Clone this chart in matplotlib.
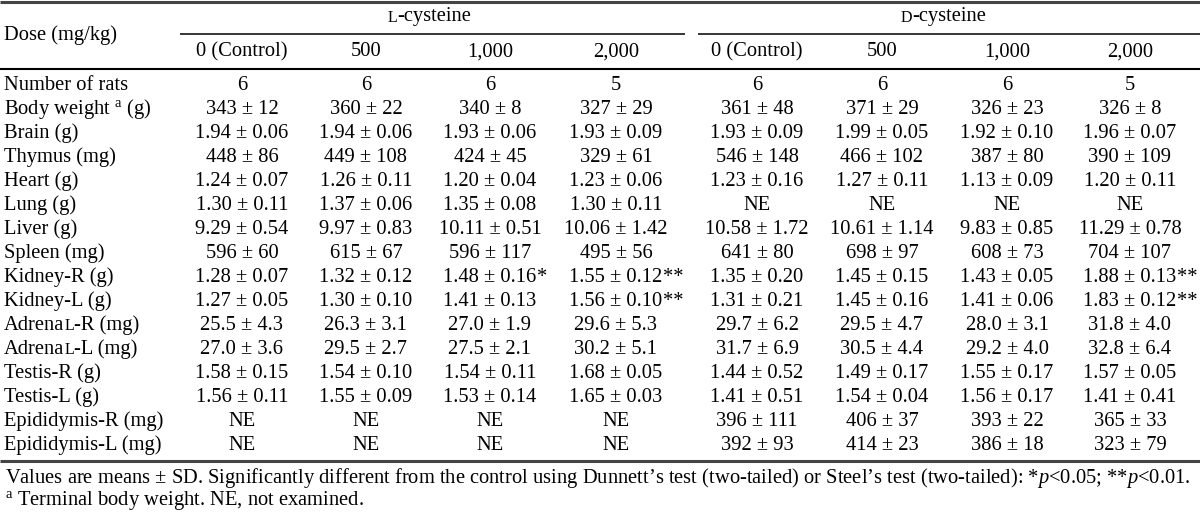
import matplotlib.pyplot as plt
from matplotlib.offsetbox import TextArea, HPacker, AnnotationBbox

plt.rcParams['font.family'] = ['Liberation Serif', 'DejaVu Serif']
plt.rcParams['mathtext.fontset'] = 'custom'
plt.rcParams['mathtext.rm'] = 'Liberation Serif'
plt.rcParams['mathtext.it'] = 'Liberation Serif:italic'

# table content
doses = ["0 (Control)", "500", "1,000", "2,000"]
row_labels = ["Number of rats", "Body weight $^{\\rm a}$ (g)", "Brain (g)", "Thymus (mg)",
              "Heart (g)", "Lung (g)", "Liver (g)", "Spleen (mg)", "Kidney-R (g)",
              "Kidney-L (g)", "AdrenaL-R (mg)", "AdrenaL-L (mg)", "Testis-R (g)",
              "Testis-L (g)", "Epididymis-R (mg)", "Epididymis-L (mg)"]

l_0 = ["6", "343 ± 12", "1.94 ± 0.06", "448 ± 86", "1.24 ± 0.07", "1.30 ± 0.11", "9.29 ± 0.54",
       "596 ± 60", "1.28 ± 0.07", "1.27 ± 0.05", "25.5 ± 4.3", "27.0 ± 3.6", "1.58 ± 0.15",
       "1.56 ± 0.11", "NE", "NE"]
l_500 = ["6", "360 ± 22", "1.94 ± 0.06", "449 ± 108", "1.26 ± 0.11", "1.37 ± 0.06", "9.97 ± 0.83",
         "615 ± 67", "1.32 ± 0.12", "1.30 ± 0.10", "26.3 ± 3.1", "29.5 ± 2.7", "1.54 ± 0.10",
         "1.55 ± 0.09", "NE", "NE"]
l_1000 = ["6", "340 ± 8", "1.93 ± 0.06", "424 ± 45", "1.20 ± 0.04", "1.35 ± 0.08", "10.11 ± 0.51",
          "596 ± 117", "1.48 ± 0.16*", "1.41 ± 0.13", "27.0 ± 1.9", "27.5 ± 2.1", "1.54 ± 0.11",
          "1.53 ± 0.14", "NE", "NE"]
l_2000 = ["5", "327 ± 29", "1.93 ± 0.09", "329 ± 61", "1.23 ± 0.06", "1.30 ± 0.11", "10.06 ± 1.42",
          "495 ± 56", "1.55 ± 0.12**", "1.56 ± 0.10**", "29.6 ± 5.3", "30.2 ± 5.1", "1.68 ± 0.05",
          "1.65 ± 0.03", "NE", "NE"]
d_0 = ["6", "361 ± 48", "1.93 ± 0.09", "546 ± 148", "1.23 ± 0.16", "NE", "10.58 ± 1.72",
       "641 ± 80", "1.35 ± 0.20", "1.31 ± 0.21", "29.7 ± 6.2", "31.7 ± 6.9", "1.44 ± 0.52",
       "1.41 ± 0.51", "396 ± 111", "392 ± 93"]
d_500 = ["6", "371 ± 29", "1.99 ± 0.05", "466 ± 102", "1.27 ± 0.11", "NE", "10.61 ± 1.14",
         "698 ± 97", "1.45 ± 0.15", "1.45 ± 0.16", "29.5 ± 4.7", "30.5 ± 4.4", "1.49 ± 0.17",
         "1.54 ± 0.04", "406 ± 37", "414 ± 23"]
d_1000 = ["6", "326 ± 23", "1.92 ± 0.10", "387 ± 80", "1.13 ± 0.09", "NE", "9.83 ± 0.85",
          "608 ± 73", "1.43 ± 0.05", "1.41 ± 0.06", "28.0 ± 3.1", "29.2 ± 4.0", "1.55 ± 0.17",
          "1.56 ± 0.17", "393 ± 22", "386 ± 18"]
d_2000 = ["5", "326 ± 8", "1.96 ± 0.07", "390 ± 109", "1.20 ± 0.11", "NE", "11.29 ± 0.78",
          "704 ± 107", "1.88 ± 0.13**", "1.83 ± 0.12**", "31.8 ± 4.0", "32.8 ± 6.4", "1.57 ± 0.05",
          "1.41 ± 0.41", "365 ± 33", "323 ± 79"]

columns = [l_0, l_500, l_1000, l_2000, d_0, d_500, d_1000, d_2000]

note1 = ("Values are means ± SD. Significantly different from the control using Dunnett\u2019s test "
         "(two-tailed) or Steel\u2019s test (two-tailed): *$p$<0.05; **$p$<0.01.")
note2 = "$^{\\rm a}$ Terminal body weight. NE, not examined."

FS = 14.75
SC = 11.5  # small caps size

fig = plt.figure(figsize=(12, 5.17), dpi=100)
ax = fig.add_axes([0, 0, 1, 1])
ax.set_xlim(0, 1200)
ax.set_ylim(517, 0)
ax.axis('off')

col_x = [242, 366, 490, 616, 757, 882, 1007, 1130]
row_y0, row_dy = 85, 24


def smallcap_text(pieces, xy, halign):
    # pieces: list of (string, is_small)
    areas = [TextArea(s, textprops=dict(fontsize=SC if small else FS)) for s, small in pieces]
    box = HPacker(children=areas, align="baseline", pad=0, sep=0)
    ab = AnnotationBbox(box, xy, xycoords='data', frameon=False,
                        box_alignment=(halign, 0.5), pad=0)
    ax.add_artist(ab)


def split_sc(label):
    # "AdrenaL-R" has a small-capital L
    if label.startswith("AdrenaL"):
        return [("Adrena", False), ("L", True), (label[7:], False)]
    return None


# rules
ax.hlines(2, 0, 1200, color='#444444', lw=2.2)
ax.hlines(34, 180, 685, color='black', lw=1.1)
ax.hlines(34, 698, 1200, color='black', lw=1.1)
ax.hlines(69, 0, 1200, color='black', lw=1.5)
ax.hlines(461, 0, 1200, color='#444444', lw=2.2)

# headers
ax.text(4, 35, "Dose (mg/kg)", fontsize=FS, va='center', ha='left')
smallcap_text([("L", True), ("-cysteine", False)], ((col_x[0] + col_x[3]) / 2, 17), 0.5)
smallcap_text([("D", True), ("-cysteine", False)], ((col_x[4] + col_x[7]) / 2, 17), 0.5)
for i, x in enumerate(col_x):
    ax.text(x, 52, doses[i % 4], fontsize=FS, va='center', ha='center')

# body
for r, label in enumerate(row_labels):
    y = row_y0 + r * row_dy
    sc = split_sc(label)
    if sc:
        smallcap_text(sc, (4, y), 0.0)
    else:
        ax.text(4, y, label, fontsize=FS, va='center', ha='left')
    for x, col in zip(col_x, columns):
        val = col[r]
        base = val.rstrip('*')
        stars = val[len(base):]
        t = ax.text(x, y, base, fontsize=FS, va='center', ha='center')
        if stars:
            ax.annotate(stars, xy=(1, 0.5), xycoords=t, fontsize=FS, va='center', ha='left')

ax.text(5, 478, note1, fontsize=FS, va='center', ha='left')
ax.text(5, 501, note2, fontsize=FS, va='center', ha='left')

fig.savefig("out.png", dpi=100)
